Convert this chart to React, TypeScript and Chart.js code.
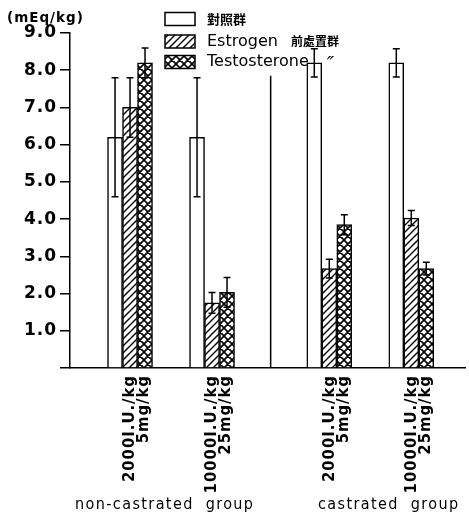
import React, { useEffect, useRef } from 'react';
import { Chart, registerables } from 'chart.js';

Chart.register(...registerables);

// ---- data ----
const GROUP_LINE1 = ['2000I.U./kg', '10000I.U./kg', '2000I.U./kg', '10000I.U./kg'];
const GROUP_LINE2 = ['5mg/kg', '25mg/kg', '5mg/kg', '25mg/kg'];
const GROUP_CASTRATED = [false, false, true, true];
const GROUP_NAMES = ['non-castrated  group', 'castrated  group'];
const SERIES_NAMES = ['對照群', 'Estrogen', 'Testosterone'];
const SERIES_NOTES = ['', '前處置群', '″'];
const CONTROL = [6.2, 6.2, 8.2, 8.2];
const CONTROL_ERR = [1.6, 1.6, 0.38, 0.38];
const ESTROGEN = [7.0, 1.75, 2.67, 4.03];
const ESTROGEN_ERR = [0.8, 0.28, 0.25, 0.2];
const TESTO = [8.2, 2.03, 3.85, 2.67];
const TESTO_ERR = [0.4, 0.4, 0.27, 0.17];
const Y_MIN = 0;
const Y_MAX = 9;
const Y_STEP = 1;
const Y_UNIT = '(mEq/kg)';

const CASTRATED_GAP = 0.43;
const xPos = (i: number) => i + (GROUP_CASTRATED[i] ? CASTRATED_GAP : 0);

function makeHatch(cross: boolean): CanvasPattern | string {
  const s = cross ? 8 : 7;
  const c = document.createElement('canvas');
  c.width = s;
  c.height = s;
  const g = c.getContext('2d');
  if (!g) return '#fff';
  g.fillStyle = '#fff';
  g.fillRect(0, 0, s, s);
  g.strokeStyle = '#000';
  g.lineWidth = cross ? 1.6 : 1.4;
  g.beginPath();
  g.moveTo(-1, s + 1); g.lineTo(s + 1, -1);
  g.moveTo(-1, 1); g.lineTo(1, -1);
  g.moveTo(s - 1, s + 1); g.lineTo(s + 1, s - 1);
  if (cross) {
    g.moveTo(-1, -1); g.lineTo(s + 1, s + 1);
    g.moveTo(s - 1, -1); g.lineTo(s + 1, 1);
    g.moveTo(-1, s - 1); g.lineTo(1, s + 1);
  }
  g.stroke();
  const p = g.createPattern(c, 'repeat');
  return p || '#fff';
}

const FONT = "'DejaVu Sans', sans-serif";
const NARROW = "'DejaVu Sans Condensed', 'Liberation Sans Narrow', 'DejaVu Sans', sans-serif";

export default function App() {
  const ref = useRef<HTMLCanvasElement | null>(null);

  useEffect(() => {
    const canvas = ref.current;
    if (!canvas) return;
    const fills = ['#ffffff', makeHatch(false), makeHatch(true)];

    const spacingPlugin = {
      id: 'spacing',
      beforeLayout(chart: any) { chart.ctx.letterSpacing = '1px'; },
      beforeDraw(chart: any) { chart.ctx.letterSpacing = '1px'; },
    };

    const errPlugin = {
      id: 'errbars',
      afterDatasetsDraw(chart: any) {
        const ctx = chart.ctx;
        const ys = chart.scales.y;
        chart.data.datasets.forEach((ds: any, di: number) => {
          const meta = chart.getDatasetMeta(di);
          meta.data.forEach((bar: any, j: number) => {
            const v = ds.data[j].y;
            const e = ds.errors[j];
            const x = bar.x;
            const top = ys.getPixelForValue(v + e);
            const bot = ys.getPixelForValue(v - e);
            ctx.save();
            ctx.strokeStyle = '#000';
            ctx.lineWidth = 1.5;
            ctx.beginPath();
            ctx.moveTo(x, top); ctx.lineTo(x, bot);
            ctx.moveTo(x - 3.5, top); ctx.lineTo(x + 3.5, top);
            ctx.moveTo(x - 3.5, bot); ctx.lineTo(x + 3.5, bot);
            ctx.stroke();
            ctx.restore();
          });
        });
      },
    };

    const decorPlugin = {
      id: 'decor',
      afterDraw(chart: any) {
        const ctx = chart.ctx;
        const xs = chart.scales.x;
        const ys = chart.scales.y;
        ctx.save();
        ctx.fillStyle = '#000';
        ctx.strokeStyle = '#000';
        // unit label
        ctx.letterSpacing = '1px';
        ctx.font = `bold 13.5px ${FONT}`;
        ctx.textAlign = 'left';
        ctx.textBaseline = 'middle';
        ctx.fillText(Y_UNIT, 7, 18);
        // separator between groups
        const sx = xs.getPixelForValue((xPos(1) + xPos(2)) / 2);
        ctx.lineWidth = 1.5;
        ctx.beginPath();
        ctx.moveTo(sx, ys.getPixelForValue(7.85));
        ctx.lineTo(sx, ys.getPixelForValue(0));
        ctx.stroke();
        // group names
        ctx.letterSpacing = '1.4px';
        ctx.font = `16px ${NARROW}`;
        ctx.fillText(GROUP_NAMES[0], 75, 505);
        ctx.fillText(GROUP_NAMES[1], 318, 505);
        // legend
        const rows = [19, 41.5, 62];
        ctx.letterSpacing = '0px';
        rows.forEach((cy, i) => {
          ctx.fillStyle = fills[i];
          ctx.fillRect(165, cy - 6.5, 30, 13);
          ctx.lineWidth = 1.5;
          ctx.strokeRect(165, cy - 6.5, 30, 13);
          ctx.fillStyle = '#000';
          const isCjk = /[\u4e00-\u9fff]/.test(SERIES_NAMES[i]);
          ctx.font = isCjk ? `bold 13px 'Noto Sans CJK TC', sans-serif` : `16px ${FONT}`;
          ctx.fillText(SERIES_NAMES[i], 207, cy);
          const w = ctx.measureText(SERIES_NAMES[i]).width;
          if (SERIES_NOTES[i]) {
            const cjkNote = /[\u4e00-\u9fff]/.test(SERIES_NOTES[i]);
            ctx.font = cjkNote ? `bold 12px 'Noto Sans CJK TC', sans-serif` : `italic 20px ${FONT}`;
            ctx.fillText(SERIES_NOTES[i], 207 + w + (cjkNote ? 13 : 18), cjkNote ? cy : cy + 3);
          }
        });
        ctx.restore();
      },
    };

    const mk = (vals: number[], errs: number[], i: number) => ({
      label: SERIES_NAMES[i],
      data: vals.map((v, j) => ({ x: xPos(j), y: v })),
      errors: errs,
      backgroundColor: fills[i],
      borderColor: '#000',
      borderWidth: 1.5,
    });

    const chart = new Chart(canvas, {
      type: 'bar',
      data: {
        datasets: [
          mk(CONTROL, CONTROL_ERR, 0),
          mk(ESTROGEN, ESTROGEN_ERR, 1),
          mk(TESTO, TESTO_ERR, 2),
        ] as any,
      },
      options: {
        responsive: false,
        animation: false,
        devicePixelRatio: 1,
        layout: { padding: { top: 33, right: 4, left: 0, bottom: 0 } },
        datasets: { bar: { barThickness: 15 } } as any,
        plugins: {
          legend: { display: false },
          tooltip: { enabled: false },
          title: { display: false },
        },
        scales: {
          x: {
            type: 'linear',
            min: -0.732,
            max: 4.085,
            offset: false,
            grid: { display: false, drawTicks: false },
            border: { display: true, color: '#000', width: 1.5 },
            afterBuildTicks: (s: any) => {
              s.ticks = GROUP_LINE1.map((_, i) => ({ value: xPos(i) }));
            },
            afterFit: (s: any) => { s.height = 148; },
            ticks: {
              autoSkip: false,
              minRotation: 90,
              maxRotation: 90,
              padding: 7,
              color: '#000',
              font: { family: NARROW, size: 16.5, weight: 'bold', lineHeight: 0.85 },
              callback: (_v: any, i: number) => [GROUP_LINE1[i], GROUP_LINE2[i]],
            },
          },
          y: {
            min: Y_MIN,
            max: Y_MAX,
            grid: { drawOnChartArea: false, drawTicks: true, tickLength: 10, color: '#000', lineWidth: 1.5 },
            border: { display: true, color: '#000', width: 1.5 },
            afterFit: (s: any) => { s.width = 70; },
            ticks: {
              stepSize: Y_STEP,
              padding: 3,
              color: '#000',
              font: { family: FONT, size: 17, weight: 'bold' },
              callback: (v: any) => (Number(v) === 0 ? '' : Number(v).toFixed(1)),
            },
          },
        },
      } as any,
      plugins: [spacingPlugin, errPlugin, decorPlugin],
    });
    return () => chart.destroy();
  }, []);

  return (
    <div style={{ position: 'fixed', left: 0, top: 0, width: 469, height: 516, background: '#fff' }}>
      <canvas ref={ref} width={469} height={516} style={{ display: 'block' }} />
    </div>
  );
}
